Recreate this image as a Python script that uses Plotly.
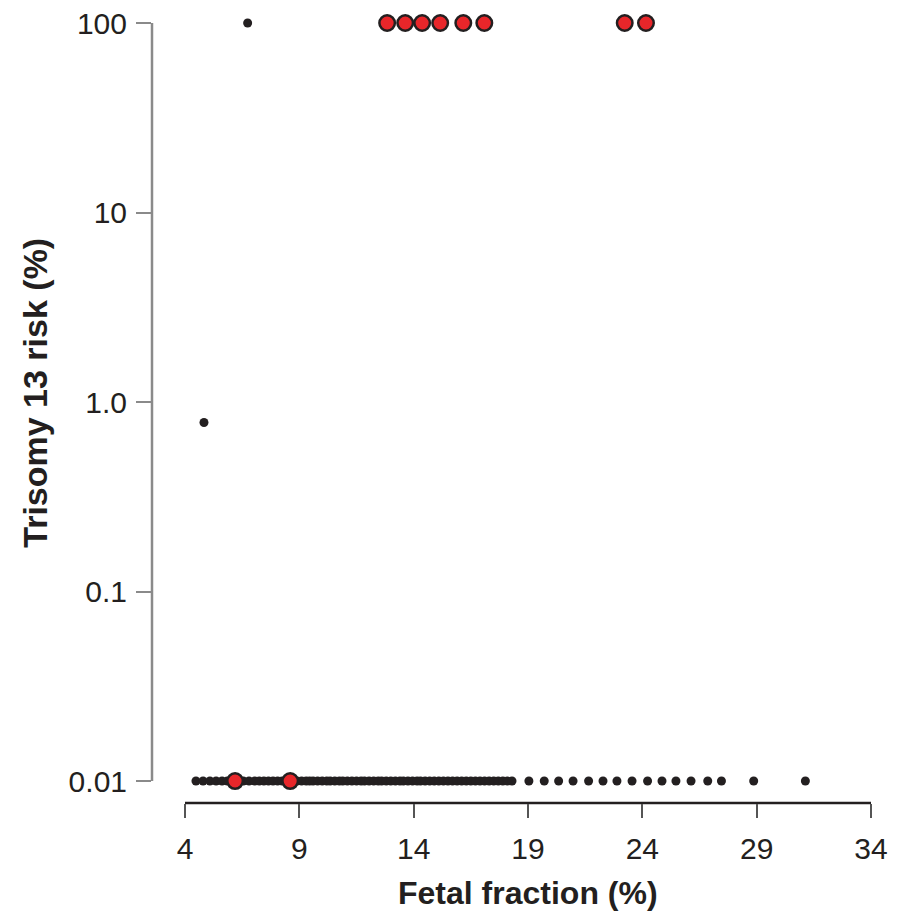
import math
import plotly.graph_objects as go

# Fetal fraction (%) values
black_low_x = [4.48, 4.79, 5.09, 5.36, 5.62, 5.85, 6.55, 6.8, 7.05, 7.25, 7.45, 7.65, 7.85,
               8.05, 8.25, 8.45, 8.9, 9.1, 9.3, 9.45, 9.6, 9.8, 10.0, 10.2, 10.35, 10.55,
               10.75, 10.9, 11.1, 11.3, 11.5, 11.7, 11.85, 12.05, 12.25, 12.45, 12.6, 12.8,
               13.0, 13.2, 13.4, 13.55, 13.75, 13.95, 14.15, 14.3, 14.5, 14.7, 14.9, 15.1,
               15.3, 15.5, 15.7, 15.9, 16.1, 16.3, 16.5, 16.7, 16.9, 17.1, 17.3, 17.5, 17.7,
               17.9, 18.1, 18.3, 19.04, 19.71, 20.34, 20.97, 21.65, 22.28, 22.89, 23.55,
               24.23, 24.86, 25.47, 26.13, 26.86, 27.46, 28.87, 31.13]
black_low_y = [0.01] * len(black_low_x)

black_other_x = [6.74, 4.83]
black_other_y = [100, 0.78]

red_x = [12.84, 13.63, 14.37, 15.16, 16.17, 17.09, 23.23, 24.16, 6.19, 8.6]
red_y = [100, 100, 100, 100, 100, 100, 100, 100, 0.01, 0.01]

x_ticks = [4, 9, 14, 19, 24, 29, 34]
y_ticks = [100, 10, 1, 0.1, 0.01]
y_tick_text = ["100", "10", "1.0", "0.1", "0.01"]

x_title = "<b>Fetal fraction (%)</b>"
y_title = "<b>Trisomy 13 risk (%)</b>"

INK = "#231f20"
RED = "#e8262a"
FONT = "Liberation Sans, Arial, sans-serif"

x_range = [2.557, 34]
y_range = [-2.116, 2]

fig = go.Figure()
fig.add_trace(go.Scatter(
    x=black_low_x + black_other_x, y=black_low_y + black_other_y, mode="markers",
    marker=dict(size=9, color=INK, line=dict(width=0)), cliponaxis=False,
    showlegend=False))
fig.add_trace(go.Scatter(
    x=red_x, y=red_y, mode="markers",
    marker=dict(size=15.5, color=RED, line=dict(width=2.5, color=INK)), cliponaxis=False,
    showlegend=False))

y_low_frac = (math.log10(min(y_ticks)) - y_range[0]) / (y_range[1] - y_range[0])
x_mid_frac = ((x_ticks[0] + x_ticks[-1]) / 2 - x_range[0]) / (x_range[1] - x_range[0])

fig.update_layout(
    width=904, height=918,
    margin=dict(l=144, r=41, t=15, b=123),
    paper_bgcolor="white", plot_bgcolor="white",
    font=dict(family=FONT, color=INK),
    xaxis=dict(range=x_range, tickvals=x_ticks, showgrid=False, zeroline=False,
               showline=False, ticks="outside", ticklen=14, tickwidth=1.5,
               tickcolor="#555555", ticklabelstandoff=5, ticklabeloverflow="allow",
               automargin=False, tickfont=dict(size=30, color=INK)),
    yaxis=dict(type="log", range=y_range, tickvals=y_ticks, ticktext=y_tick_text,
               showgrid=False, zeroline=False, showline=False, ticks="outside",
               ticklen=15, tickwidth=2, tickcolor="#8a8a8a", ticklabelstandoff=3,
               ticklabeloverflow="allow", automargin=False,
               tickfont=dict(size=30, color=INK)),
    annotations=[
        dict(text=x_title, xref="paper", yref="paper", x=x_mid_frac, y=-0.1154,
             xanchor="center", yanchor="middle", showarrow=False,
             font=dict(size=32, color=INK)),
        dict(text=y_title, xref="paper", yref="paper", x=-0.1627, y=0.526,
             xanchor="center", yanchor="middle", showarrow=False, textangle=-90,
             font=dict(size=34, color=INK)),
    ],
    shapes=[
        dict(type="line", xref="x", yref="paper", x0=x_ticks[0], x1=x_ticks[-1],
             y0=0, y1=0, line=dict(color=INK, width=2.5), layer="below"),
        dict(type="line", xref="paper", yref="paper", x0=0, x1=0,
             y0=y_low_frac, y1=1, line=dict(color="#8a8a8a", width=2.5), layer="below"),
    ],
)

fig.write_html("out.html")
